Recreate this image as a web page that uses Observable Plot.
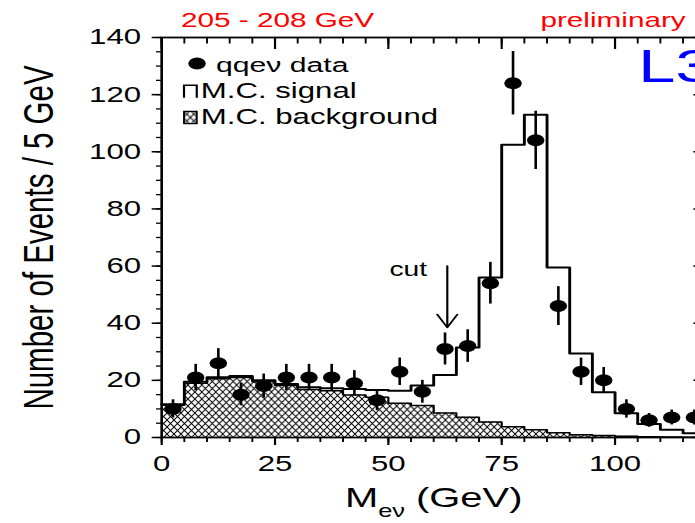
<!DOCTYPE html>
<html><head><meta charset="utf-8">
<script src="https://cdn.jsdelivr.net/npm/d3@7"></script>
<script src="https://cdn.jsdelivr.net/npm/@observablehq/plot@0.6"></script>
<style>
html,body{margin:0;padding:0;background:#fff;overflow:hidden;}
#wrap{width:695px;height:523px;overflow:hidden;position:relative;background:#fff;}
#wrap svg{display:block;transform:scaleX(1.45);transform-origin:0 0;max-width:none!important;}
</style></head><body><div id="wrap"></div>
<script>
// ---- data (5 GeV bins) ----
const binLo = [0,5,10,15,20,25,30,35,40,45,50,55,60,65,70,75,80,85,90,95,100,105,110,115];
const binWidth = 5;
const dataCounts = [10,21,26,15,18,21,21,21,19,13,23,16,31,32,54,124,104,46,23,20,10,6,7,7];
const dataErrors = [3.2,4.6,5.1,3.9,4.2,4.6,4.6,4.6,4.4,3.6,4.8,4.0,5.6,5.7,7.3,11.1,10.2,6.8,4.8,4.5,3.2,2.4,2.6,2.6];
const mcSignal = [11.6,19.5,21.1,21.5,20.0,18.7,17.6,17.2,17.0,16.6,16.4,18.2,21.9,31.5,56,102.5,113,59.5,29.4,15.8,8.5,4.7,2.7,1.5];
const mcBackground = [11.3,19.0,20.6,21.0,19.5,18.2,16.8,16.4,14.9,14.1,12.0,11.2,8.6,7.1,5.4,3.8,2.7,1.7,1.0,0.7,0.4,0.3,0.2,0.1];
const xMax = 120, yMax = 140;
const xMajorTicks = [0,25,50,75,100];
const xMinorTicks = [0,5,10,15,20,25,30,35,40,45,50,55,60,65,70,75,80,85,90,95,100,105,110,115,120];
const yMajorTicks = [0,20,40,60,80,100,120,140];
const yMinorTicks = [0,5,10,15,20,25,30,35,40,45,50,55,60,65,70,75,80,85,90,95,100,105,110,115,120,125,130,135,140];
const cutArrow = {x: 63, yFrom: 60, yTo: 38.5};
const cutLabel = {x: 54.4, y: 58.7, text: "cut"};
const legendItems = ["qqeν data", "M.C. signal", "M.C. background"];
const titleLeft = "205 - 208 GeV", titleRight = "preliminary", logo = "L3";
const yLabel = "Number of Events / 5 GeV";
const red = "#ff0000", blue = "#0000ff";

const binTable = binLo.map((lo, i) => ({lo, mid: lo + binWidth / 2, n: dataCounts[i], err: dataErrors[i], sig: mcSignal[i], bg: mcBackground[i]}));
const stepTable = [...binTable, {lo: xMax, sig: mcSignal[mcSignal.length - 1], bg: mcBackground[mcBackground.length - 1]}];

const openBox = {draw(ctx) { const w = 4.4, h = 6.2; ctx.moveTo(-w, h); ctx.lineTo(-w, -h); ctx.lineTo(w, -h); ctx.lineTo(w, h); }};
const fullBox = {draw(ctx) { const w = 4.4, h = 6.2; ctx.moveTo(-w, -h); ctx.lineTo(w, -h); ctx.lineTo(w, h); ctx.lineTo(-w, h); ctx.closePath(); }};

const font = "'Liberation Sans', Arial, Helvetica, sans-serif";

const chart = Plot.plot({
  width: 497, height: 523,
  marginLeft: 111, marginRight: 10.8, marginTop: 37, marginBottom: 86,
  x: {domain: [0, xMax]},
  y: {domain: [0, yMax]},
  style: {fontFamily: font, background: "white", color: "black", overflow: "visible"},
  marks: [
    Plot.areaY(stepTable, {x: "lo", y: "bg", curve: "step-after", fill: "url(#hatch)"}),
    Plot.lineY(stepTable, {x: "lo", y: "bg", curve: "step-after", stroke: "black", strokeWidth: 1.5}),
    Plot.lineY(stepTable, {x: "lo", y: "sig", curve: "step-after", stroke: "black", strokeWidth: 2}),
    Plot.ruleX(binTable, {x: "mid", y1: d => d.n - d.err, y2: d => d.n + d.err, stroke: "black", strokeWidth: 1.8}),
    Plot.dot(binTable, {x: "mid", y: "n", r: 6, fill: "black", stroke: "none"}),
    Plot.frame({stroke: "black", strokeWidth: 1.8}),
    // axes
    Plot.axisY(yMajorTicks, {anchor: "left", tickSize: 6.4, tickPadding: 7.8, fontSize: 21.5, label: null, strokeWidth: 1.5}),
    Plot.axisY(yMinorTicks, {anchor: "left", tickSize: 3.4, fill: "none", label: null, strokeWidth: 1.3}),
    Plot.axisY(yMajorTicks, {anchor: "right", tickSize: -9, fill: "none", label: null, strokeWidth: 1.5}),
    Plot.axisY(yMinorTicks, {anchor: "right", tickSize: -4, fill: "none", label: null, strokeWidth: 1.3}),
    Plot.axisX(xMajorTicks, {anchor: "bottom", tickSize: 8, tickPadding: 10, fontSize: 21.5, label: null, strokeWidth: 1.5}),
    Plot.axisX(xMinorTicks, {anchor: "bottom", tickSize: 5, fill: "none", label: null, strokeWidth: 1.3}),
    Plot.axisX(xMajorTicks, {anchor: "top", tickSize: -11, fill: "none", label: null, strokeWidth: 1.5}),
    Plot.axisX(xMinorTicks, {anchor: "top", tickSize: -5.5, fill: "none", label: null, strokeWidth: 1.3}),
    // axis labels
    Plot.text([yLabel], {text: d => d, frameAnchor: "left", lineAnchor: "middle", dx: -84.5, rotate: -90, fontSize: 29.5, textAnchor: "middle", fill: "black"}),
    Plot.text(["M"], {text: d => d, frameAnchor: "bottom", lineAnchor: "middle", dy: 61, fontSize: 27.5, textAnchor: "middle", fill: "black", className: "xlab"}),
    // titles
    Plot.text([titleLeft], {text: d => d, frameAnchor: "top-left", lineAnchor: "middle", dx: 13.3, dy: -17, fontSize: 20.5, textAnchor: "start", fill: red}),
    Plot.text([titleRight], {text: d => d, frameAnchor: "top-right", lineAnchor: "middle", dx: -13.8, dy: -17, fontSize: 20.5, textAnchor: "end", fill: red}),
    Plot.text([logo], {text: d => d, frameAnchor: "top-left", lineAnchor: "middle", dx: 328.7, dy: 30, fontSize: 46, textAnchor: "start", fill: blue}),
    // cut annotation
    Plot.arrow([cutArrow], {x1: "x", x2: "x", y1: "yFrom", y2: "yTo", stroke: "black", strokeWidth: 1.5, headLength: 14.7, headAngle: 56}),
    Plot.text([cutLabel], {x: "x", y: "y", text: "text", fontSize: 19.5, textAnchor: "middle", fill: "black"}),
    // legend
    Plot.dot([legendItems[0]], {frameAnchor: "top-left", dx: 24.4, dy: 26, r: 6, fill: "black", stroke: "none"}),
    Plot.text([legendItems[0]], {text: d => d, frameAnchor: "top-left", lineAnchor: "middle", dx: 37.5, dy: 28, fontSize: 20.8, textAnchor: "start", fill: "black"}),
    Plot.dot([legendItems[1]], {frameAnchor: "top-left", dx: 19.8, dy: 54, symbol: openBox, fill: "none", stroke: "black", strokeWidth: 1.5}),
    Plot.text([legendItems[1]], {text: d => d, frameAnchor: "top-left", lineAnchor: "middle", dx: 27, dy: 54, fontSize: 21.5, textAnchor: "start", fill: "black"}),
    Plot.dot([legendItems[2]], {frameAnchor: "top-left", dx: 19.8, dy: 80, symbol: fullBox, fill: "url(#hatch)", stroke: "black", strokeWidth: 1.3}),
    Plot.text([legendItems[2]], {text: d => d, frameAnchor: "top-left", lineAnchor: "middle", dx: 27, dy: 80, fontSize: 21.5, textAnchor: "start", fill: "black"})
  ]
});

// hatch pattern definition
const ns = "http://www.w3.org/2000/svg";
const defs = document.createElementNS(ns, "defs");
const pat = document.createElementNS(ns, "pattern");
pat.setAttribute("id", "hatch");
pat.setAttribute("patternUnits", "userSpaceOnUse");
pat.setAttribute("width", "4.8");
pat.setAttribute("height", "7");
const pth = document.createElementNS(ns, "path");
pth.setAttribute("d", "M0,0L4.8,7M4.8,0L0,7");
pth.setAttribute("stroke", "black");
pth.setAttribute("stroke-width", "0.8");
pth.setAttribute("fill", "none");
pat.appendChild(pth);
defs.appendChild(pat);
chart.insertBefore(defs, chart.firstChild);

// subscript in x label
const xl = chart.querySelector("g.xlab text");
if (xl) {
  xl.textContent = "M";
  const sub = document.createElementNS(ns, "tspan");
  sub.setAttribute("dy", "10");
  sub.setAttribute("font-size", "17.5");
  sub.textContent = "eν";
  const rest = document.createElementNS(ns, "tspan");
  rest.setAttribute("dy", "-10");
  rest.textContent = " (GeV)";
  xl.appendChild(sub);
  xl.appendChild(rest);
}

document.getElementById("wrap").appendChild(chart);
</script>
</body></html>
